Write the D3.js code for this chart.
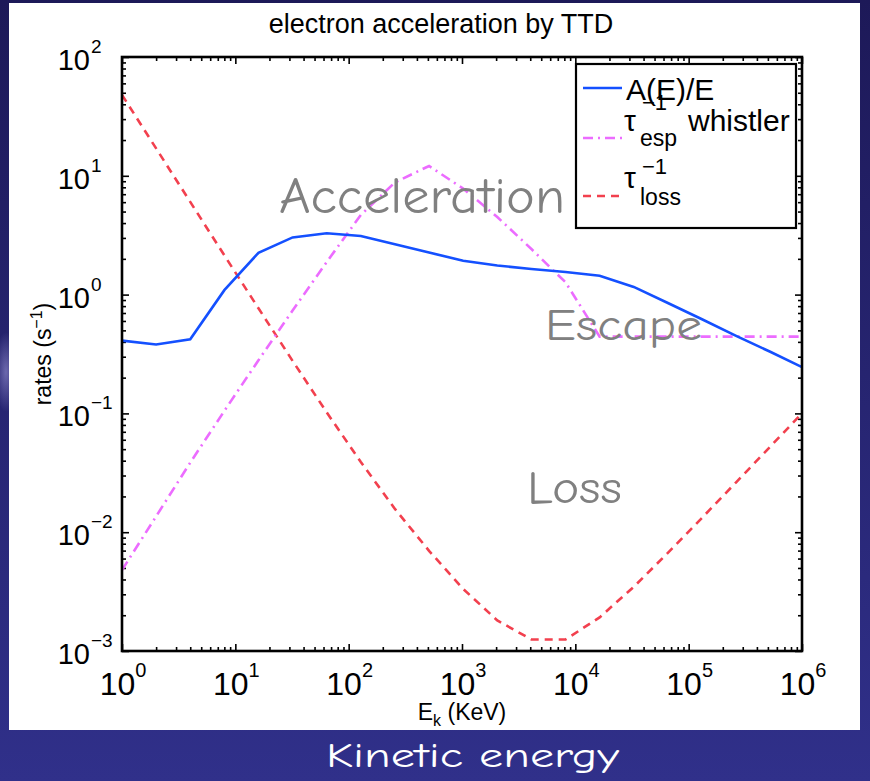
<!DOCTYPE html>
<html>
<head>
<meta charset="utf-8">
<script src="https://cdn.jsdelivr.net/npm/d3@7"></script>
<style>
  html, body { margin: 0; padding: 0; background: #221d63; }
  svg { display: block; }
</style>
</head>
<body>
<svg id="chart"></svg>
<script>
// energies on the 2^n grid (KeV)
const energy = [1, 2, 4, 8, 16, 32, 64, 128, 256, 512, 1024, 2048, 4096, 8192,
  16384, 32768, 65536, 131072, 262144, 524288, 1048576];

// A(E)/E
const accelRate = [0.41, 0.38, 0.42, 1.09, 2.25, 3.03, 3.28, 3.11, 2.65, 2.26, 1.93,
  1.76, 1.64, 1.55, 1.44, 1.16, 0.85, 0.62, 0.45, 0.33, 0.24];

// tau_esp^-1 whistler
const escapeRate = [0.0048, 0.0136, 0.0385, 0.105, 0.28, 0.735, 1.88, 4.68, 8.8, 12.1,
  7.8, 4.5, 2.42, 1.27, 0.443, 0.443, 0.443, 0.443, 0.443, 0.443, 0.443];

// tau_loss^-1
const lossRate = [48, 17.0, 6.03, 2.14, 0.767, 0.277, 0.102, 0.039, 0.0157, 0.00697,
  0.00333, 0.00181, 0.00125, 0.00125, 0.00192, 0.00347, 0.0067, 0.0132, 0.0263,
  0.0525, 0.105];

const xExponents = [0, 1, 2, 3, 4, 5, 6];
const yExponents = [-3, -2, -1, 0, 1, 2];

const WIDTH = 870;
const HEIGHT = 781;

const MARGIN = { top: 57, bottom: 130, left: 122, right: 68 };

const svg = d3.select("#chart")
  .attr("width", WIDTH)
  .attr("height", HEIGHT);

const FONT = "'Liberation Sans', Arial, Helvetica, sans-serif";
const FUN_FONT = "'Comic Sans MS', 'Comic Neue', 'DejaVu Sans', sans-serif";

// slide background
const defs = svg.append("defs");
const bg = defs.append("linearGradient").attr("id", "bg")
  .attr("x1", 0).attr("y1", 0).attr("x2", 0).attr("y2", 1);
bg.append("stop").attr("offset", "0%").attr("stop-color", "#1d1958");
bg.append("stop").attr("offset", "100%").attr("stop-color", "#30308a");
const glow = defs.append("radialGradient").attr("id", "glow");
glow.append("stop").attr("offset", "0%").attr("stop-color", "#8a86c8").attr("stop-opacity", 0.7);
glow.append("stop").attr("offset", "100%").attr("stop-color", "#8a86c8").attr("stop-opacity", 0);

svg.append("rect").attr("width", WIDTH).attr("height", HEIGHT).attr("fill", "url(#bg)");
svg.append("ellipse").attr("cx", 6).attr("cy", 372).attr("rx", 12).attr("ry", 40)
  .attr("fill", "url(#glow)");

// white figure panel
svg.append("rect")
  .attr("x", 9).attr("y", 3)
  .attr("width", 851).attr("height", 727)
  .attr("fill", "#ffffff");

const x = d3.scaleLog()
  .domain([1, 1e6])
  .range([MARGIN.left, WIDTH - MARGIN.right]);

const y = d3.scaleLog()
  .domain([1e-3, 1e2])
  .range([HEIGHT - MARGIN.bottom + 0, MARGIN.top]);

const plotW = x.range()[1] - x.range()[0];
const plotH = y.range()[0] - y.range()[1];

defs.append("clipPath").attr("id", "plotclip")
  .append("rect")
  .attr("x", MARGIN.left).attr("y", MARGIN.top)
  .attr("width", plotW).attr("height", plotH);

// ticks (inside, all four sides)
const xMajor = xExponents.map(e => Math.pow(10, e));
const yMajor = yExponents.map(e => Math.pow(10, e));
const xMinor = x.ticks().filter(t => !xMajor.some(m => Math.abs(m - t) / m < 1e-9));
const yMinor = y.ticks().filter(t => !yMajor.some(m => Math.abs(m - t) / m < 1e-9));

function tickAxis(axisGen, scale, vals, size, transform) {
  const g = svg.append("g")
    .attr("transform", transform)
    .call(axisGen(scale).tickValues(vals).tickFormat("").tickSizeInner(size).tickSizeOuter(0));
  g.select(".domain").remove();
  g.selectAll("line").attr("stroke", "#000").attr("stroke-width", 1.6);
}

const bottomY = y.range()[0];
const topY = y.range()[1];
const leftX = x.range()[0];
const rightX = x.range()[1];

tickAxis(d3.axisBottom, x, xMajor, -7, `translate(0,${bottomY})`);
tickAxis(d3.axisBottom, x, xMinor, -4, `translate(0,${bottomY})`);
tickAxis(d3.axisTop, x, xMajor, -7, `translate(0,${topY})`);
tickAxis(d3.axisTop, x, xMinor, -4, `translate(0,${topY})`);
tickAxis(d3.axisLeft, y, yMajor, -7, `translate(${leftX},0)`);
tickAxis(d3.axisLeft, y, yMinor, -4, `translate(${leftX},0)`);
tickAxis(d3.axisRight, y, yMajor, -7, `translate(${rightX},0)`);
tickAxis(d3.axisRight, y, yMinor, -4, `translate(${rightX},0)`);

// curves
const line = d3.line()
  .x(d => x(d[0]))
  .y(d => y(d[1]));

const curves = svg.append("g").attr("clip-path", "url(#plotclip)");

curves.append("path")
  .datum(d3.zip(energy, lossRate))
  .attr("d", line)
  .attr("fill", "none")
  .attr("stroke", "#f2404e")
  .attr("stroke-width", 2.6)
  .attr("stroke-dasharray", "8,6");

curves.append("path")
  .datum(d3.zip(energy, escapeRate))
  .attr("d", line)
  .attr("fill", "none")
  .attr("stroke", "#ec6cff")
  .attr("stroke-width", 2.6)
  .attr("stroke-dasharray", "10,5,2,5");

curves.append("path")
  .datum(d3.zip(energy, accelRate))
  .attr("d", line)
  .attr("fill", "none")
  .attr("stroke", "#1450ff")
  .attr("stroke-width", 2.6);

// frame
svg.append("rect")
  .attr("x", leftX).attr("y", topY)
  .attr("width", plotW).attr("height", plotH)
  .attr("fill", "none")
  .attr("stroke", "#000")
  .attr("stroke-width", 2.6);

// tick labels
xExponents.forEach(e => {
  const t = svg.append("text")
    .attr("x", x(Math.pow(10, e)) + 1)
    .attr("y", bottomY + 44)
    .attr("text-anchor", "middle")
    .attr("font-family", FONT)
    .attr("fill", "#000");
  t.append("tspan").attr("font-size", 32).text("10");
  t.append("tspan").attr("font-size", 20).attr("dy", -18).text(e < 0 ? "\u2212" + (-e) : e);
});

yExponents.forEach(e => {
  const yy = y(Math.pow(10, e));
  svg.append("text")
    .attr("x", leftX - 32)
    .attr("y", yy + 13)
    .attr("text-anchor", "end")
    .attr("font-family", FONT)
    .attr("font-size", 29)
    .attr("fill", "#000")
    .text("10");
  svg.append("text")
    .attr("x", leftX - 31)
    .attr("y", yy - 4)
    .attr("font-family", FONT)
    .attr("font-size", 19)
    .attr("fill", "#000")
    .text(e < 0 ? "\u2212" + (-e) : e);
});

// title and axis labels
svg.append("text")
  .attr("x", 441).attr("y", 33)
  .attr("text-anchor", "middle")
  .attr("font-family", FONT)
  .attr("font-size", 27)
  .text("electron acceleration by TTD");

const xl = svg.append("text")
  .attr("x", (leftX + rightX) / 2).attr("y", 720)
  .attr("text-anchor", "middle")
  .attr("font-family", FONT)
  .attr("font-size", 23);
xl.append("tspan").text("E");
xl.append("tspan").attr("font-size", 16).attr("dy", 6).text("k");
xl.append("tspan").attr("dy", -6).text(" (KeV)");

const yl = svg.append("text")
  .attr("transform", `translate(51,${(topY + bottomY) / 2}) rotate(-90)`)
  .attr("text-anchor", "middle")
  .attr("font-family", FONT)
  .attr("font-size", 23);
yl.append("tspan").text("rates (s");
yl.append("tspan").attr("font-size", 16).attr("dy", -9).text("\u22121");
yl.append("tspan").attr("dy", 9).text(")");

// legend
const lg = svg.append("g");
lg.append("rect")
  .attr("x", 576).attr("y", 64)
  .attr("width", 220).attr("height", 164)
  .attr("fill", "#fff")
  .attr("stroke", "#000")
  .attr("stroke-width", 2.2);

const legendRows = [
  { y: 88, color: "#1450ff", dash: null },
  { y: 138, color: "#ec6cff", dash: "10,5,2,5" },
  { y: 196, color: "#f2404e", dash: "8,6" }
];
legendRows.forEach(r => {
  lg.append("line")
    .attr("x1", 583).attr("x2", 622)
    .attr("y1", r.y).attr("y2", r.y)
    .attr("stroke", r.color)
    .attr("stroke-width", 2.6)
    .attr("stroke-dasharray", r.dash);
});

function lgText(xx, yy, size, str) {
  lg.append("text")
    .attr("x", xx).attr("y", yy)
    .attr("font-family", FONT)
    .attr("font-size", size)
    .attr("fill", "#000")
    .text(str);
}
lgText(626, 100, 30, "A(E)/E");
lgText(624, 131, 30, "\u03c4");
lgText(642, 110, 22, "\u22121");
lgText(640, 146, 23, "esp");
lgText(688, 131, 30, "whistler");
lgText(624, 188, 30, "\u03c4");
lgText(642, 174, 22, "\u22121");
lgText(640, 205, 23, "loss");

// slide annotations
function note(str, xx, yy, size, len, color) {
  svg.append("text")
    .attr("x", xx).attr("y", yy)
    .attr("font-family", FUN_FONT)
    .attr("font-size", size)
    .attr("fill", color)
    .attr("textLength", len)
    .attr("lengthAdjust", "spacingAndGlyphs")
    .text(str);
}
note("Acceleration", 279, 213, 50, 286, "#808080");
note("Escape", 545, 340, 44, 157, "#808080");
note("Loss", 527, 503, 46, 95, "#808080");
note("Kinetic energy", 326, 767, 34, 293, "#ffffff");
</script>
</body>
</html>
